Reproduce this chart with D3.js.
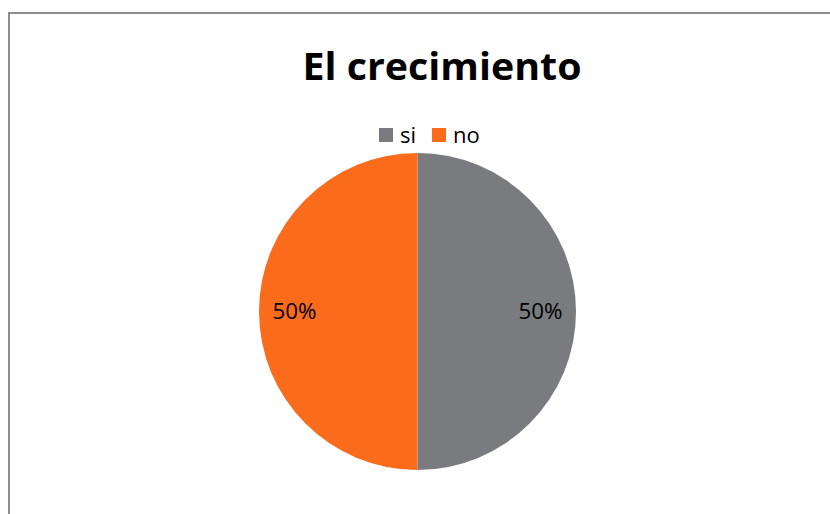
<!DOCTYPE html>
<html><head><meta charset="utf-8">
<script src="https://cdn.jsdelivr.net/npm/d3@7"></script>
<style>body{margin:0;background:#fff}svg{display:block}</style>
</head><body><svg id="c" width="830" height="514"></svg>
<script>
const title = "El crecimiento";
const categories = ["si", "no"];
const values = [50, 50];
const colors = ["#7a7b7f", "#fa6c1c"];

const svg = d3.select("#c");
svg.append("rect").attr("x", 9).attr("y", 13).attr("width", 830).attr("height", 520)
  .attr("fill", "#fff").attr("stroke", "#8c8c8c").attr("stroke-width", 2);

const font = "'Open Sans', 'Noto Sans', sans-serif";
svg.append("text").attr("x", 442).attr("y", 80).attr("text-anchor", "middle")
  .attr("font-family", font).attr("font-weight", "bold").attr("font-size", 37)
  .attr("textLength", 279).attr("lengthAdjust", "spacingAndGlyphs")
  .attr("fill", "#000").text(title);

const cx = 417.5, cy = 311.5, r = 158.5;
const total = d3.sum(values);
const pie = d3.pie().sort(null).value(d => d.v);
const arcs = pie(categories.map((c, i) => ({c, v: values[i], col: colors[i]})));
const arc = d3.arc().innerRadius(0).outerRadius(r);
const labelArc = d3.arc().innerRadius(123).outerRadius(123);
const g = svg.append("g").attr("transform", `translate(${cx},${cy})`);
g.selectAll("path").data(arcs).join("path").attr("d", arc).attr("fill", d => d.data.col);
g.selectAll("text").data(arcs).join("text")
  .attr("transform", d => `translate(${labelArc.centroid(d)})`)
  .attr("text-anchor", "middle").attr("dy", "0.38em")
  .attr("font-family", font).attr("font-size", 21).attr("fill", "#000")
  .attr("textLength", 44).attr("lengthAdjust", "spacingAndGlyphs")
  .text(d => d3.format(".0%")(d.data.v / total));

// legend
const legX = [379, 432];
const lg = svg.append("g");
categories.forEach((c, i) => {
  lg.append("rect").attr("x", legX[i]).attr("y", 128).attr("width", 14).attr("height", 14).attr("fill", colors[i]);
  lg.append("text").attr("x", legX[i] + 21).attr("y", 143).attr("font-family", font)
    .attr("font-size", 22).attr("fill", "#000").text(c);
});
</script></body></html>
